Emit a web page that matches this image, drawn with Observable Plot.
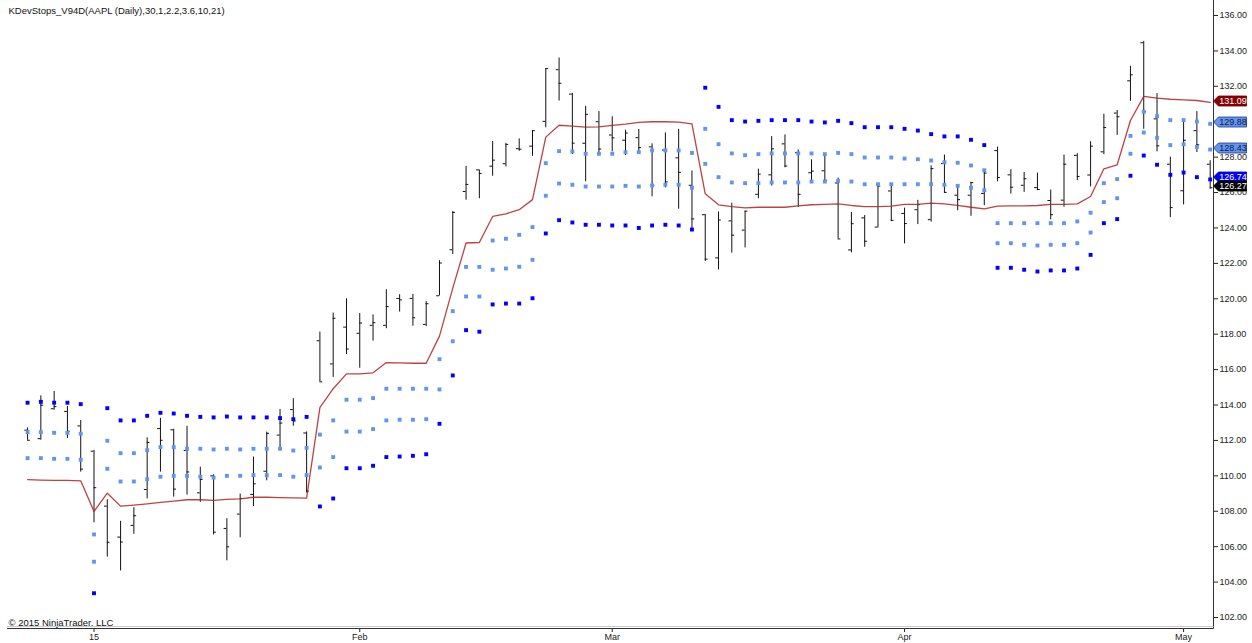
<!DOCTYPE html>
<html><head><meta charset="utf-8">
<script src="https://cdn.jsdelivr.net/npm/d3@7"></script>
<script src="https://cdn.jsdelivr.net/npm/@observablehq/plot@0.6"></script>
<style>
body{margin:0;background:#fff;}
#chart svg{display:block;}
</style>
</head><body><div id="chart"></div>
<script>
// ---- Data (AAPL daily, Dec 24 2014 – May 5 2015), bar index 0..89 ----
const openP = [112.58,112.10,113.79,113.64,112.82,111.39,108.29,106.54,107.20,109.23,
112.67,112.60,111.43,109.04,110.00,107.03,107.84,108.95,110.26,112.30,
113.74,112.42,117.63,116.32,118.40,118.05,118.50,118.50,120.02,120.02,
118.55,120.17,122.77,126.06,127.28,127.49,127.63,128.48,128.62,130.02,
132.94,131.56,128.785,130.00,129.25,128.96,129.10,128.58,128.40,127.96,
126.41,124.75,122.31,124.40,123.88,125.90,127.00,128.75,128.25,127.12,
127.23,126.54,122.76,124.57,124.05,126.09,124.82,125.03,124.47,127.64,
125.85,125.85,125.95,128.37,127.00,126.41,126.28,125.55,125.57,128.10,
126.99,128.30,130.49,132.31,134.46,130.16,127.60,126.10,129.50,127.60];
const highP = [112.71,114.52,114.77,113.92,113.13,111.44,108.65,107.43,108.20,112.15,
113.25,112.63,112.80,110.49,110.06,107.58,108.97,111.06,112.47,113.75,
114.36,112.48,118.12,119.19,120.00,119.17,119.09,120.51,120.23,120.25,
119.84,122.15,124.92,127.48,127.28,128.88,128.78,129.03,129.50,133.00,
133.60,131.60,130.87,130.57,130.28,129.52,129.56,128.75,129.37,129.57,
127.22,124.77,124.90,125.40,124.95,127.32,129.16,129.25,128.40,127.85,
128.04,126.82,124.88,124.70,126.40,126.49,125.12,125.56,127.51,128.12,
126.40,126.58,127.21,128.57,127.29,127.13,127.10,126.14,128.12,128.20,
128.87,130.42,130.63,133.13,134.54,131.59,128.00,130.13,130.57,127.80];
const lowP = [112.01,112.01,113.70,112.11,110.21,107.35,105.41,104.63,106.70,108.70,
110.21,108.80,108.91,108.50,106.66,105.20,106.50,108.27,109.72,111.53,
112.80,109.03,115.31,115.56,116.85,116.08,117.61,118.31,119.25,118.45,
118.43,120.16,122.50,125.57,125.65,126.92,127.45,128.33,128.05,129.66,
131.17,128.15,126.61,128.24,128.30,128.09,128.32,125.76,126.26,125.06,
123.80,122.11,121.63,122.58,122.87,125.65,126.37,127.40,125.16,126.52,
126.56,123.38,122.60,122.91,124.00,124.36,123.10,124.19,124.33,125.98,
124.97,124.66,125.26,126.61,125.91,126.01,126.11,124.46,125.17,126.67,
126.32,128.14,129.23,131.15,129.57,128.30,124.58,125.30,128.26,126.20];
const closeP = [112.01,113.99,113.91,112.52,110.38,109.33,106.25,106.26,107.75,111.89,
112.01,109.25,110.22,109.80,106.82,105.99,108.72,109.55,112.40,112.98,
113.10,109.14,115.31,118.90,117.16,118.63,118.65,119.56,119.94,118.93,
119.72,122.02,124.88,126.46,127.08,127.83,128.72,128.45,129.50,133.00,
132.17,128.79,130.415,128.46,129.09,129.36,128.54,126.41,126.60,127.14,
124.51,122.24,124.45,123.59,124.95,127.04,128.47,127.50,125.90,127.21,
126.69,123.38,124.24,123.25,126.37,124.43,124.25,125.32,127.35,126.01,
125.60,126.56,127.10,126.85,126.30,126.78,126.17,124.75,127.60,126.91,
128.62,129.67,130.28,132.65,130.56,128.64,125.15,128.95,128.70,126.27];
// KDevStops base line (red)
const baseLine = [109.79,109.76,109.74,109.74,109.72,107.99,109.02,108.29,108.35,108.42,
108.50,108.57,108.65,108.65,108.61,108.67,108.70,108.79,108.79,108.77,
108.76,108.74,113.85,114.92,115.76,115.76,115.82,116.40,116.38,116.36,
116.36,117.89,120.60,123.15,123.18,124.65,124.80,125.03,125.60,129.13,
129.80,129.75,129.69,129.71,129.79,129.86,129.96,130.00,130.00,129.98,
129.88,125.93,125.31,125.21,125.14,125.17,125.17,125.17,125.25,125.31,
125.33,125.36,125.27,125.21,125.21,125.23,125.33,125.33,125.40,125.36,
125.27,125.17,125.08,125.23,125.25,125.25,125.27,125.33,125.33,125.36,
125.78,127.34,127.57,130.07,131.43,131.33,131.27,131.24,131.20,131.09];
// nearest stop (light blue)
const stopNear = [111.00,111.00,110.96,110.96,110.91,106.69,110.40,109.68,109.68,109.81,
109.95,110.00,110.00,109.95,109.90,110.00,110.00,110.04,110.04,110.04,
109.95,110.04,112.33,113.13,114.30,114.30,114.39,114.92,114.92,114.92,
114.92,116.59,119.30,121.80,121.80,123.29,123.39,123.61,124.05,127.66,
128.34,128.32,128.19,128.19,128.19,128.28,128.28,128.38,128.38,128.38,
128.24,127.62,126.87,126.57,126.53,126.53,126.57,126.57,126.57,126.62,
126.62,126.66,126.62,126.47,126.47,126.47,126.47,126.47,126.47,126.44,
126.38,126.27,126.13,124.27,124.27,124.27,124.27,124.27,124.27,124.37,
124.86,126.53,126.76,129.20,130.56,130.31,130.09,130.09,130.01,129.88];
// middle stop (light blue)
const stopMid = [112.47,112.47,112.43,112.43,112.38,105.15,111.98,111.28,111.28,111.45,
111.62,111.62,111.53,111.53,111.49,111.53,111.49,111.53,111.53,111.53,
111.43,111.58,110.47,111.06,112.50,112.50,112.64,113.13,113.17,113.17,
113.20,114.88,117.60,120.13,120.13,121.64,121.71,121.81,122.20,125.82,
126.51,126.44,126.34,126.34,126.34,126.38,126.34,126.40,126.44,126.44,
126.27,129.60,128.73,128.21,128.11,128.17,128.21,128.21,128.21,128.21,
128.17,128.24,128.17,127.98,127.98,127.98,127.92,127.88,127.81,127.71,
127.68,127.53,127.26,123.14,123.14,123.05,123.01,123.05,123.05,123.14,
123.74,125.46,125.68,128.19,129.39,129.09,128.68,128.73,128.58,128.43];
// far stop (dark blue)
const stopFar = [114.13,114.18,114.13,114.13,114.05,103.37,113.82,113.13,113.13,113.39,
113.56,113.52,113.39,113.33,113.30,113.35,113.30,113.30,113.30,113.26,
113.20,113.33,108.27,108.72,110.43,110.43,110.57,111.06,111.09,111.13,
111.22,112.94,115.67,118.23,118.14,119.68,119.73,119.73,120.03,123.69,
124.44,124.31,124.18,124.18,124.14,124.14,124.00,124.14,124.18,124.14,
123.91,131.92,130.84,130.09,130.01,130.05,130.09,130.09,130.09,130.01,
129.96,130.05,129.92,129.69,129.69,129.69,129.60,129.50,129.30,129.17,
129.17,128.98,128.68,121.75,121.75,121.64,121.54,121.60,121.60,121.71,
122.48,124.27,124.50,126.95,128.09,127.57,127.00,127.13,126.87,126.74];

const xTickIndex = [5, 25, 44, 66, 87];
const xTickLabels = ["15", "Feb", "Mar", "Apr", "May"];
const yTickValues = d3.range(102, 137, 2);
const titleText = "KDevStops_V94D(AAPL (Daily),30,1,2.2,3.6,10,21)";
const copyrightText = "\u00A9 2015 NinjaTrader, LLC";

// ---- layout / styles ----
const W = 1252, H = 643;
const mLeft = 8, mRight = 39, mTop = 0, mBottom = 15;
const darkBlue = "#0000FF", lightBlue = "#6495ED", redCol = "#B22222";
const fontFam = "'Liberation Sans', Arial, Helvetica, sans-serif";

const rows = closeP.map((c, i) => ({
  i, open: openP[i], high: highP[i], low: lowP[i], close: c,
  base: baseLine[i], near: stopNear[i], mid: stopMid[i], far: stopFar[i]
}));
const last = rows[rows.length - 1];
const markers = [
  {value: baseLine[baseLine.length-1], fill: "#8B0000", text: "#fff", stroke: "#5a0000", nudge: 0},
  {value: stopNear[stopNear.length-1], fill: lightBlue, text: "#0a1a50", stroke: "#1c3b8a", nudge: 0},
  {value: stopMid[stopMid.length-1], fill: lightBlue, text: "#0a1a50", stroke: "#1c3b8a", nudge: 0},
  {value: stopFar[stopFar.length-1], fill: darkBlue, text: "#fff", stroke: "#00008b", nudge: -1},
  {value: last.close, fill: "#000", text: "#fff", stroke: "#000", nudge: 0.5}
];

const xDomain = [-1.435, 89.25];
const yDomain = [101.378, 136.847];
const tickLen = 0.21;

function frameAndMarkers(index, scales, values, dimensions) {
  const {width, height, marginRight, marginBottom, marginLeft} = dimensions;
  let y = scales && typeof scales.y === "function" ? scales.y
    : d3.scaleLinear().domain(yDomain).range([height - marginBottom, mTop]);
  const g = d3.create("svg:g");
  const xr = width - marginRight, yb = height - marginBottom;
  g.append("line").attr("x1", xr + 0.5).attr("x2", xr + 0.5).attr("y1", 0).attr("y2", yb + 0.5)
    .attr("stroke", "#333").attr("stroke-width", 1);
  g.append("line").attr("x1", marginLeft - 1).attr("x2", xr + 0.5).attr("y1", yb - 1.5).attr("y2", yb - 1.5)
    .attr("stroke", "#ccc").attr("stroke-width", 1);
  g.append("line").attr("x1", marginLeft - 1).attr("x2", xr + 0.5).attr("y1", yb + 0.5).attr("y2", yb + 0.5)
    .attr("stroke", "#333").attr("stroke-width", 1);
  for (const m of markers) {
    const cy = Math.round(y(m.value) - 1.3 + m.nudge);
    const x0 = xr + 0.5, hh = 5;
    g.append("path")
      .attr("d", `M${x0},${cy} L${x0 + 5},${cy - hh} L${x0 + 33},${cy - hh} L${x0 + 33},${cy + hh} L${x0 + 5},${cy + hh} Z`)
      .attr("fill", m.fill).attr("stroke", m.stroke).attr("stroke-width", 0.8);
    g.append("text").attr("x", x0 + 19.5).attr("y", cy).attr("dy", "0.35em")
      .attr("text-anchor", "middle").attr("fill", m.text)
      .attr("font-family", fontFam).attr("font-size", 9)
      .text(m.value.toFixed(2));
  }
  return g.node();
}

const chart = Plot.plot({
  width: W, height: H,
  marginLeft: mLeft, marginRight: mRight, marginTop: mTop, marginBottom: mBottom,
  style: {fontFamily: fontFam, fontSize: "9px", background: "#fff", color: "#222", overflow: "visible"},
  x: {type: "linear", domain: xDomain, ticks: xTickIndex, tickFormat: (d) => xTickLabels[xTickIndex.indexOf(d)] ?? "",
      tickSize: 4, tickPadding: 1, label: null},
  y: {type: "linear", domain: yDomain, axis: "right", ticks: yTickValues, tickFormat: (d) => d.toFixed(2),
      tickSize: 4, tickPadding: 2, label: null},
  marks: [
    // OHLC bars
    Plot.ruleX(rows, {x: "i", y1: "low", y2: "high", stroke: "#111", strokeWidth: 1}),
    Plot.ruleY(rows, {y: "open", x1: d => d.i - tickLen, x2: "i", stroke: "#111", strokeWidth: 1}),
    Plot.ruleY(rows, {y: "close", x1: "i", x2: d => d.i + tickLen, stroke: "#111", strokeWidth: 1}),
    // base line
    Plot.line(rows, {x: "i", y: "base", stroke: redCol, strokeWidth: 1.3, strokeOpacity: 0.85}),
    // stops
    Plot.dot(rows, {x: "i", y: "near", symbol: "square", r: 2.2, fill: lightBlue, stroke: "none"}),
    Plot.dot(rows, {x: "i", y: "mid", symbol: "square", r: 2.2, fill: lightBlue, stroke: "none"}),
    Plot.dot(rows, {x: "i", y: "far", symbol: "square", r: 2.2, fill: darkBlue, stroke: "none"}),
    // texts
    Plot.text([titleText], {text: d => d, frameAnchor: "top-left", textAnchor: "start", lineAnchor: "top",
      dx: 0, dy: 7, fontSize: 9.5, fill: "#111"}),
    Plot.text([copyrightText], {text: d => d, frameAnchor: "bottom-left", textAnchor: "start", lineAnchor: "bottom",
      dx: 0, dy: -3, fontSize: 9.5, fill: "#111"}),
    frameAndMarkers
  ]
});
document.getElementById("chart").appendChild(chart);
</script>
</body></html>
